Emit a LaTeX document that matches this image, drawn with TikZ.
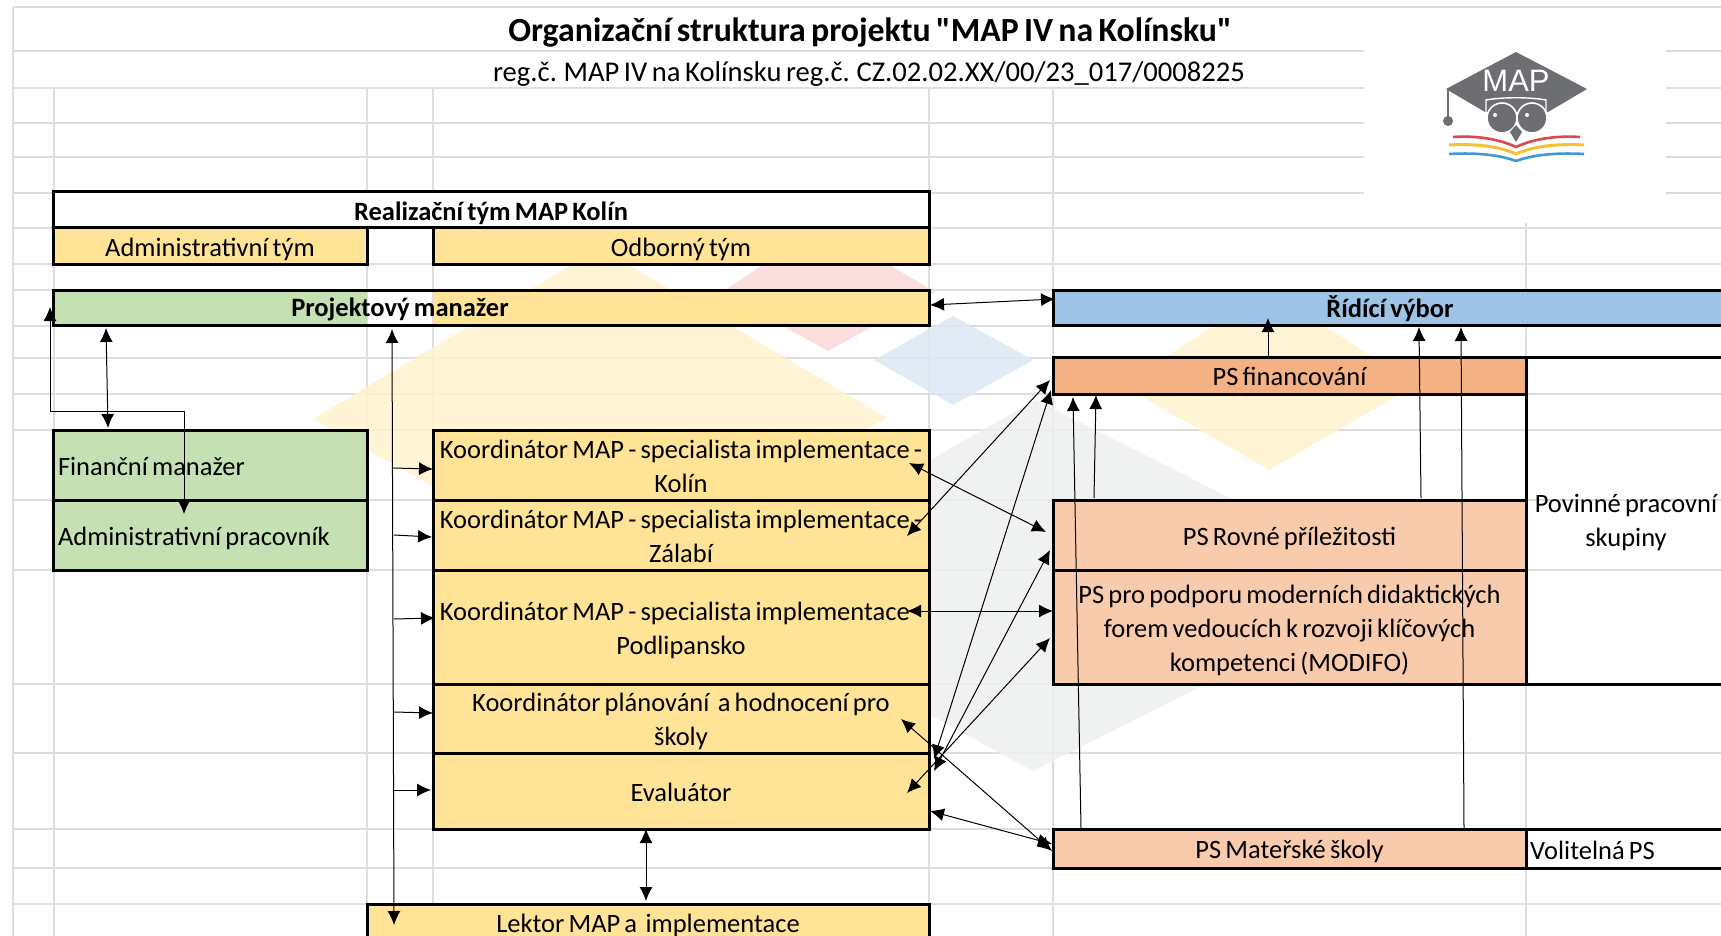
\documentclass[tikz,border=0pt]{standalone}
\usepackage{fontspec}
\setmainfont[WordSpace=0.7,Ligatures=TeXOff]{Carlito}
\newfontfamily\logofont{Liberation Sans}
\usetikzlibrary{arrows.meta}
\usetikzlibrary{positioning}
\definecolor{cellyellow}{HTML}{FFE497}
\definecolor{cellgreen}{HTML}{C5E0B3}
\definecolor{cellblue}{HTML}{9DC3E6}
\definecolor{cellorange}{HTML}{F4B183}
\definecolor{cellpeach}{HTML}{F8CBAD}
\definecolor{gridgray}{HTML}{DEDEDE}
\definecolor{logogray}{HTML}{6D6E71}
\definecolor{washyellow}{HTML}{FFF3CC}
\definecolor{washred}{HTML}{FBD9D9}
\definecolor{washblue}{HTML}{DCE8F5}
\definecolor{washgray}{HTML}{EEF0F0}
\definecolor{bookred}{HTML}{E0474C}
\definecolor{bookyellow}{HTML}{F2C230}
\definecolor{bookblue}{HTML}{3F97D5}
\newcommand{\toppad}[1]{\rule{0pt}{#1pt}}
\tikzset{
    cellbox/.style={draw=black, line width=3pt, anchor=north west, inner sep=0pt, outer sep=0pt, align=center, font=\fontsize{26.5}{34}\selectfont},
    leftbox/.style={cellbox, align=flush left, inner xsep=5pt},
    plaintext/.style={inner sep=0pt, align=center, font=\fontsize{26.5}{34}\selectfont},
    boldtext/.style={font=\fontsize{26.5}{34}\selectfont\bfseries},
    gridline/.style={gridgray, line width=1.8pt},
    tableline/.style={black, line width=3pt},
    wash/.style={fill opacity=.85},
    link/.style={black, line width=1pt}
}
\begin{document}
\begin{tikzpicture}[x=1pt,y=-1pt,>={Latex[length=14pt,width=13pt]}]
    \useasboundingbox (0,0) rectangle (1721,936);
    \fill[white] (0,0) rectangle (1721,936);

            % Sheet grid
            \foreach \gy in {7,51,88,123,157,193,228,264,290,326,358,394,430,500,570,684,753,829,868,904}
                \draw[gridline] (13,\gy) -- (1721,\gy);
            \draw[gridline] (13,7) -- (13,936);
            \foreach \gx in {54,367,433,929,1053}
                \draw[gridline] (\gx,88) -- (\gx,936);

            % Watermark
            \fill[wash, fill=washred] (722,292) -- (823,225) -- (935,292) -- (828,351) -- cycle;
            \fill[wash, fill=washyellow] (313,419) -- (600,248) -- (887,418) -- (600,580) -- cycle;
            \fill[wash, fill=washblue] (874,360) -- (953,316) -- (1033,360) -- (953,405) -- cycle;
            \fill[wash, fill=washyellow] (1122,385) -- (1269,290) -- (1416,385) -- (1269,470) -- cycle;
            \fill[wash, fill=washgray] (700,590) -- (1036,400) -- (1403,585) -- (1033,771) -- cycle;

            % Logo corner and right grid line
            \fill[white] (1364,10) rectangle (1666,223);
            \draw[gridline] (1526,223) -- (1526,936);

            % Title
            \node [plaintext, font=\fontsize{33.8}{36}\selectfont\bfseries] (title) at (870,33) {Organizační struktura projektu "MAP IV na Kolínsku"};
            \node [plaintext, font=\fontsize{28.6}{34}\selectfont] (subtitle) at (869,74) {reg.č. MAP IV na Kolínsku reg.č. CZ.02.02.XX/00/23\_017/0008225};

            % Team header
            \node [cellbox, boldtext, fill=white, minimum width=876pt, minimum height=36pt] (realizace) at (53,192) {\toppad{25}Realizační tým MAP Kolín};
            \node [cellbox, fill=cellyellow, minimum width=314pt, minimum height=36pt] (admintym) at (53,228) {\toppad{25}Administrativní tým};
            \node [cellbox, fill=cellyellow, minimum width=496pt, minimum height=36pt] (odborny) at (433,228) {\toppad{25}Odborný tým};

            % Managers
            \fill[cellgreen] (53,290) rectangle (367,325);
            \fill[cellyellow] (433,290) rectangle (929,325);
            \node [cellbox, minimum width=876pt, minimum height=35pt] (manazer) at (53,290) {};
            \node [plaintext, boldtext] (manazertext) at (400,309) {Projektový manažer};
            \node [cellbox, boldtext, fill=cellblue, minimum width=674pt, minimum height=35pt] (vybor) at (1053,290) {\toppad{25}Řídící výbor};

            % Administrative team
            \node [leftbox, fill=cellgreen, text width=304pt, minimum height=70pt] (financni) at (53,430) {\toppad{21}Finanční manažer};
            \node [leftbox, fill=cellgreen, text width=304pt, minimum height=70pt] (pracovnik) at (53,500) {\toppad{25}Administrativní pracovník};

            % Expert team
            \node [cellbox, fill=cellyellow, minimum width=496pt, minimum height=70pt] (kolin) at (433,430) {\toppad{21}Koordinátor MAP - specialista implementace -\\Kolín};
            \node [cellbox, fill=cellyellow, minimum width=496pt, minimum height=70pt] (zalabi) at (433,500) {\toppad{21}Koordinátor MAP - specialista implementace -\\Zálabí};
            \node [cellbox, fill=cellyellow, minimum width=496pt, minimum height=114pt] (podlipansko) at (433,570) {\toppad{25}Koordinátor MAP - specialista implementace -\\Podlipansko};
            \node [cellbox, fill=cellyellow, minimum width=496pt, minimum height=69pt] (planovani) at (433,684) {\toppad{25}Koordinátor plánování\ \ a hodnocení pro\\školy};
            \node [cellbox, fill=cellyellow, minimum width=496pt, minimum height=76pt] (evaluator) at (433,753) {\toppad{21}Evaluátor};
            \node [cellbox, fill=cellyellow, minimum width=562pt, minimum height=36pt] (lektor) at (367,904) {\toppad{25}Lektor MAP a\ \ implementace};

            % Working groups
            \node [cellbox, fill=cellorange, minimum width=473pt, minimum height=37pt] (psfin) at (1053,357) {\toppad{21}PS financování};
            \node [cellbox, fill=cellpeach, minimum width=473pt, minimum height=70pt] (psrovne) at (1053,500) {\toppad{25}PS Rovné příležitosti};
            \node [cellbox, fill=cellpeach, minimum width=473pt, minimum height=114pt] (psmodifo) at (1053,570) {\toppad{25}PS pro podporu moderních didaktických\\forem vedoucích k rozvoji klíčových\\kompetenci (MODIFO)};
            \node [cellbox, fill=cellpeach, minimum width=473pt, minimum height=39pt] (psskoly) at (1053,829) {\toppad{25}PS Mateřské školy};
            \node [plaintext] (povinne) at (1626,523) {Povinné pracovní\\skupiny};
            \node [plaintext, anchor=west] (volitelna) at (1530,850) {Volitelná PS};

            % Table rules on the right
            \coordinate (edge) at (1721,0);
            \draw[tableline] (psfin.north east) -- (psfin.north east -| edge);
            \draw[tableline] (psfin.south east) -- (psrovne.north east);
            \draw[tableline] (psmodifo.south east) -- (psmodifo.south east -| edge);
            \draw[tableline] (psskoly.north east) -- (psskoly.north east -| edge);
            \draw[tableline] (psskoly.south east) -- (psskoly.south east -| edge);

            % Connection ends
            \coordinate (elbowA) at (50,307);
            \coordinate (elbowB) at (184,411);
            \coordinate (elbowC) at (184,514);
            \coordinate (finA) at (106,328);
            \coordinate (finB) at (108,428);
            \coordinate (spineA) at (392,329);
            \coordinate (spineB) at (394,925);
            \coordinate (spineKolin) at (392,468);
            \coordinate (spineZalabi) at (394,535);
            \coordinate (spinePodlip) at (394,619);
            \coordinate (spinePlan) at (394,712);
            \coordinate (spineEval) at (394,790);
            \coordinate (inKolin) at (433,469);
            \coordinate (inZalabi) at (432,537);
            \coordinate (inPodlip) at (435,618);
            \coordinate (inPlan) at (433,713);
            \coordinate (inEval) at (431,790);
            \coordinate (manRight) at (930,305);
            \coordinate (vyborLeft) at (1055,299);
            \coordinate (finUp) at (1268,356);
            \coordinate (vyborA) at (1268,318);
            \coordinate (rovneUp) at (1421,498);
            \coordinate (vyborB) at (1419,327);
            \coordinate (skolyUp) at (1464,828);
            \coordinate (vyborC) at (1461,327);
            \coordinate (skolyFinA) at (1081,828);
            \coordinate (finUnderA) at (1073,397);
            \coordinate (rovneFinA) at (1094,498);
            \coordinate (finUnderB) at (1096,395);
            \coordinate (finLeftA) at (1050,380);
            \coordinate (zalabiTip) at (907,536);
            \coordinate (finLeftB) at (1051,390);
            \coordinate (evalTipA) at (934,759);
            \coordinate (rovneLeftB) at (1050,550);
            \coordinate (evalTipB) at (934,771);
            \coordinate (modifoLeftB) at (1050,638);
            \coordinate (evalTipC) at (907,793);
            \coordinate (kolinTip) at (909,463);
            \coordinate (rovneLeftA) at (1046,532);
            \coordinate (podlipTip) at (907,611);
            \coordinate (modifoLeftA) at (1053,611);
            \coordinate (planTip) at (901,719);
            \coordinate (skolyLeftA) at (1052,851);
            \coordinate (evalRight) at (930,811);
            \coordinate (skolyLeftB) at (1052,844);
            \coordinate (evalDown) at (646,829);
            \coordinate (lektorUp) at (646,901);

            % Connections
            \draw [link, <->] (elbowA) |- (elbowB) -- (elbowC);
            \draw [link, <->] (finA) -- (finB);
            \draw [link, <->] (spineA) -- (spineB);
            \draw [link, ->] (spineKolin) -- (inKolin);
            \draw [link, ->] (spineZalabi) -- (inZalabi);
            \draw [link, ->] (spinePodlip) -- (inPodlip);
            \draw [link, ->] (spinePlan) -- (inPlan);
            \draw [link, ->] (spineEval) -- (inEval);
            \draw [link, <->] (manRight) -- (vyborLeft);
            \draw [link, ->] (finUp) -- (vyborA);
            \draw [link, ->] (rovneUp) -- (vyborB);
            \draw [link, ->] (skolyUp) -- (vyborC);
            \draw [link, ->] (skolyFinA) -- (finUnderA);
            \draw [link, ->] (rovneFinA) -- (finUnderB);
            \draw [link, <->] (finLeftA) -- (zalabiTip);
            \draw [link, <->] (finLeftB) -- (evalTipA);
            \draw [link, <->] (rovneLeftB) -- (evalTipB);
            \draw [link, <->] (modifoLeftB) -- (evalTipC);
            \draw [link, <->] (kolinTip) -- (rovneLeftA);
            \draw [link, <->] (podlipTip) -- (modifoLeftA);
            \draw [link, <->] (planTip) -- (skolyLeftA);
            \draw [link, <->] (evalRight) -- (skolyLeftB);
            \draw [link, <->] (evalDown) -- (lektorUp);

            % Logo
            \fill[logogray] (1516,52) -- (1587,89) -- (1548,112) -- (1485,112) -- (1446,89) -- cycle;
            \draw[logogray, line width=1.5pt] (1448,90) -- (1448,118);
            \fill[logogray] (1448,121) circle (5);
            \node [inner sep=0pt, text=white, font=\logofont\fontsize{31}{32}\selectfont] (maptext) at (1516,81) {MAP};
            \draw[white, line width=1.4pt] (1486,112) -- (1486,100) .. controls (1502,97) and (1530,97) .. (1546,100) -- (1546,112);
            \draw[white, line width=1.6pt, fill=logogray] (1502,118) circle (15);
            \draw[white, line width=1.6pt, fill=logogray] (1532,118) circle (15);
            \fill[white] (1495,115) circle (2) (1527,115) circle (2);
            \fill[logogray] (1516,125) -- (1522,132) -- (1516,142) -- (1510,132) -- cycle;
            \draw[bookred, line width=2.6pt] (1453,137) .. controls (1485,135) and (1505,142) .. (1516,147) .. controls (1527,142) and (1547,135) .. (1580,137);
            \draw[bookyellow, line width=3pt] (1449,145) .. controls (1485,143) and (1505,149) .. (1516,154) .. controls (1527,149) and (1547,143) .. (1584,145);
            \draw[bookblue, line width=2.6pt] (1449,154) .. controls (1485,152) and (1505,157) .. (1516,161) .. controls (1527,157) and (1547,152) .. (1584,154);

\end{tikzpicture}
\end{document}
